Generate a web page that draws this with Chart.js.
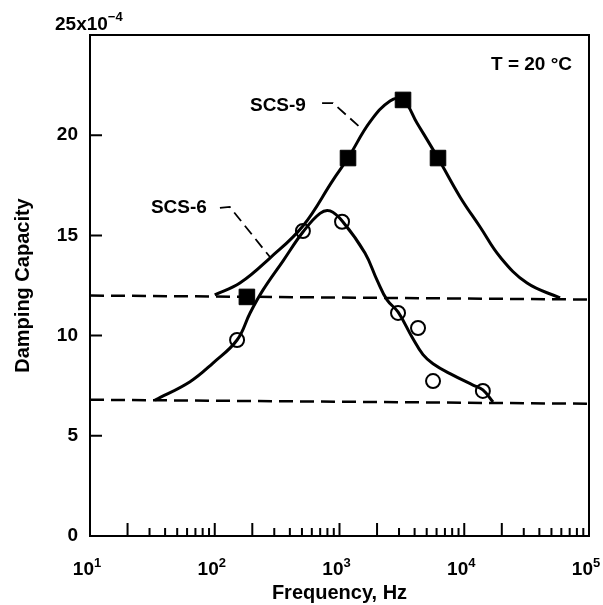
<!DOCTYPE html>
<html>
<head>
<meta charset="utf-8">
<script src="https://cdn.jsdelivr.net/npm/chart.js@4"></script>
<style>
  html, body { margin: 0; padding: 0; background: #fff; }
  #wrap { width: 603px; height: 605px; }
</style>
</head>
<body>
<div id="wrap"><canvas id="dampChart"></canvas></div>
<script>
// values (frequency in Hz, damping capacity in 1e-4)
const scs9Freq = [100, 159, 277, 509, 887, 1170, 1755, 2540, 3230, 4180, 6160, 9250, 13400, 19400, 31900, 58600];
const scs9Curve = [12.03, 12.62, 13.87, 15.47, 17.76, 18.86, 20.66, 21.71, 21.76, 20.61, 18.86, 16.92, 15.42, 13.92, 12.62, 11.88];

const scs6Freq = [33.2, 63.4, 96.8, 151, 192, 244, 352, 509, 698, 840, 1067, 1600, 2000, 2404, 2945, 3811, 4670, 5620, 7690, 11750, 14100, 17000];
const scs6Curve = [6.78, 7.7, 8.63, 9.78, 11.13, 12.28, 13.72, 15.17, 16.1, 16.22, 15.67, 14.12, 12.77, 11.78, 11.18, 9.93, 9.05, 8.6, 8.1, 7.53, 7.29, 6.69];

const squareFreq = [181, 1170, 3230, 6160];
const squareVals = [11.93, 18.86, 21.76, 18.86];

const circleFreq = [151, 509, 1048, 2945, 4260, 5620, 14100];
const circleVals = [9.78, 15.22, 15.68, 11.13, 10.38, 7.73, 7.24];

const baseFreq = [10, 100000];
const upperBase = [12.0, 11.8];
const lowerBase = [6.8, 6.6];

const decades = [1, 2, 3, 4, 5];
const yTicks = [5, 10, 15, 20];

const FONT = '"Liberation Sans", Arial, sans-serif';

function pts(xs, ys) {
    return xs.map((x, i) => ({ x: x, y: ys[i] }));
}

// box, inward ticks, tick labels and notes
const figurePlugin = {
    id: 'figure',
    beforeDatasetsDraw(chart) {
        const ctx = chart.ctx;
        const a = chart.chartArea;
        const xs = chart.scales.x;
        const ys = chart.scales.y;
        ctx.save();
        ctx.strokeStyle = '#000';
        ctx.lineWidth = 2;
        ctx.strokeRect(a.left, a.top, a.right - a.left, a.bottom - a.top);

        ctx.beginPath();
        for (let d = 1; d < 5; d++) {
            for (let m = 1; m <= 9; m++) {
                if (d === 1 && m === 1) continue;
                const px = xs.getPixelForValue(m * Math.pow(10, d));
                const len = (m <= 2) ? 13 : 8;
                ctx.moveTo(px, a.bottom);
                ctx.lineTo(px, a.bottom - len);
            }
        }
        yTicks.forEach(v => {
            const py = ys.getPixelForValue(v);
            ctx.moveTo(a.left, py);
            ctx.lineTo(a.left + 12, py);
        });
        ctx.stroke();
        ctx.restore();
    },
    afterDraw(chart) {
        const ctx = chart.ctx;
        const xs = chart.scales.x;
        const ys = chart.scales.y;
        ctx.save();
        ctx.fillStyle = '#000';

        // x tick labels 10^n
        decades.forEach(n => {
            const px = xs.getPixelForValue(Math.pow(10, n)) - 3;
            ctx.font = 'bold 19px ' + FONT;
            const w1 = ctx.measureText('10').width;
            ctx.font = 'bold 13px ' + FONT;
            const w2 = ctx.measureText(String(n)).width;
            const x0 = px - (w1 + w2) / 2;
            ctx.textAlign = 'left';
            ctx.textBaseline = 'alphabetic';
            ctx.font = 'bold 19px ' + FONT;
            ctx.fillText('10', x0, 575);
            ctx.font = 'bold 13px ' + FONT;
            ctx.fillText(String(n), x0 + w1, 567);
        });

        // top y label with exponent
        ctx.font = 'bold 19px ' + FONT;
        ctx.textAlign = 'left';
        const top = ys.getPixelForValue(25);
        ctx.fillText('25x10', 55, top - 5);
        const wt = ctx.measureText('25x10').width;
        ctx.font = 'bold 13px ' + FONT;
        ctx.fillText('\u22124', 55 + wt, top - 14);

        // curve names and leaders
        ctx.font = 'bold 19px ' + FONT;
        ctx.textAlign = 'center';
        ctx.textBaseline = 'middle';
        ctx.fillText('SCS-9', xs.getPixelForValue(321), ys.getPixelForValue(21.46));
        ctx.fillText('SCS-6', xs.getPixelForValue(51.6), ys.getPixelForValue(16.37));
        ctx.textAlign = 'right';
        ctx.fillText('T = 20 \u00b0C', xs.getPixelForValue(73100), ys.getPixelForValue(23.5));

        ctx.lineWidth = 1.8;
        ctx.setLineDash([11, 6]);
        const leader = (f, v) => {
            ctx.beginPath();
            f.forEach((x, i) => {
                const px = xs.getPixelForValue(x), py = ys.getPixelForValue(v[i]);
                if (i === 0) ctx.moveTo(px, py); else ctx.lineTo(px, py);
            });
            ctx.stroke();
        };
        leader([725, 887, 1460], [21.6, 21.6, 20.4]);
        leader([110, 132, 277], [16.37, 16.42, 13.92]);
        ctx.restore();
    }
};

const ctx = document.getElementById('dampChart').getContext('2d');

const dampChart = new Chart(ctx, {
    type: 'scatter',
    data: {
        datasets: [
            {
                data: pts(baseFreq, upperBase),
                showLine: true,
                borderColor: '#000',
                borderWidth: 2.5,
                borderDash: [14, 7],
                pointRadius: 0
            },
            {
                data: pts(baseFreq, lowerBase),
                showLine: true,
                borderColor: '#000',
                borderWidth: 2.5,
                borderDash: [14, 7],
                pointRadius: 0
            },
            {
                label: 'SCS-9',
                data: pts(scs9Freq, scs9Curve),
                showLine: true,
                borderColor: '#000',
                borderWidth: 3,
                tension: 0.4,
                pointRadius: 0
            },
            {
                label: 'SCS-6',
                data: pts(scs6Freq, scs6Curve),
                showLine: true,
                borderColor: '#000',
                borderWidth: 3,
                tension: 0.4,
                pointRadius: 0
            },
            {
                data: pts(squareFreq, squareVals),
                pointStyle: 'rect',
                pointRadius: 11,
                backgroundColor: '#000',
                borderColor: '#000',
                borderWidth: 1
            },
            {
                data: pts(circleFreq, circleVals),
                pointStyle: 'circle',
                pointRadius: 7,
                backgroundColor: '#fff',
                borderColor: '#000',
                borderWidth: 2
            }
        ]
    },
    options: {
        responsive: true,
        maintainAspectRatio: false,
        animation: false,
        layout: {
            padding: { top: 35, right: 14, left: 0, bottom: 0 }
        },
        plugins: {
            legend: { display: false },
            tooltip: { enabled: false }
        },
        scales: {
            x: {
                type: 'logarithmic',
                min: 10,
                max: 100000,
                grid: { display: false },
                border: { display: false },
                ticks: { display: false },
                title: {
                    display: true,
                    text: 'Frequency, Hz',
                    color: '#000',
                    font: { family: FONT, size: 20, weight: 'bold' },
                    padding: { top: 0, bottom: 0 }
                },
                afterFit(scale) { scale.height = 69; }
            },
            y: {
                min: 0,
                max: 25,
                grid: { display: false, drawTicks: false },
                border: { display: false },
                ticks: {
                    stepSize: 5,
                    padding: 12,
                    color: '#000',
                    font: { family: FONT, size: 19, weight: 'bold' },
                    callback: v => (v === 25 ? '' : v)
                },
                title: {
                    display: true,
                    text: 'Damping Capacity',
                    color: '#000',
                    font: { family: FONT, size: 20, weight: 'bold' },
                    padding: { top: 11, bottom: 0 }
                },
                afterFit(scale) { scale.width = 90; }
            }
        }
    },
    plugins: [figurePlugin]
});
</script>
</body>
</html>
